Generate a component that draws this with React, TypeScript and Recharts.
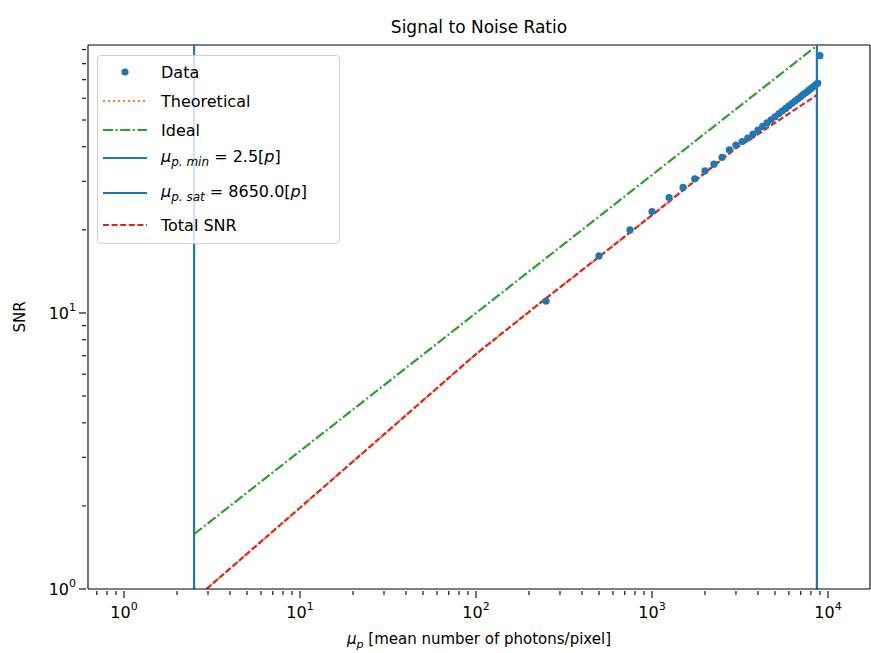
import React from 'react'
import {
  ComposedChart,
  Line,
  Scatter,
  XAxis,
  YAxis,
  ReferenceLine,
} from 'recharts'

// measured points (mean photons, SNR)
const dataMu = [250, 500, 750, 1000, 1250, 1500, 1750, 2000, 2250, 2500, 2750, 3000, 3250, 3500, 3750, 4000, 4250, 4500, 4750, 5000, 5250, 5500, 5750, 6000, 6250, 6500, 6750, 7000, 7250, 7500, 7750, 8000, 8250, 8500, 8750, 9000]
const dataSnr = [11.05, 16.1, 20.0, 23.3, 26.2, 28.5, 30.6, 32.7, 34.6, 36.6, 39.0, 40.6, 41.8, 43.0, 44.5, 46.0, 47.4, 48.8, 50.1, 51.4, 52.7, 53.9, 55.1, 56.3, 57.5, 58.6, 59.7, 60.8, 61.9, 62.9, 64.0, 65.0, 66.0, 67.0, 68.0, 85.5]

const theoMu = [2.94, 10, 30, 100, 250, 1000, 3000, 3750, 5000, 8650]
const theoSnr = [1.0, 1.97, 3.63, 7.1, 11.3, 22.6, 40.0, 44.0, 51.0, 67.0]

const idealMu = [2.5, 8650]
const idealSnr = [1.58, 93.0]

const totalMu = [2.94, 10, 30, 100, 250, 1000, 3000, 3750, 8650]
const totalSnr = [1.0, 1.97, 3.63, 7.1, 11.3, 22.6, 39.5, 43.2, 61.6]

const muMin = 2.5
const muSat = 8650

const xDomain = [0.624, 17330]
const yDomain = [1, 93.5]

const xTicks = [0.7, 0.8, 0.9, 1, 2, 3, 4, 5, 6, 7, 8, 9, 10, 20, 30, 40, 50, 60, 70, 80, 90, 100, 200, 300, 400, 500, 600, 700, 800, 900, 1000, 2000, 3000, 4000, 5000, 6000, 7000, 8000, 9000, 10000]
const yTicks = [1, 2, 3, 4, 5, 6, 7, 8, 9, 10, 20, 30, 40, 50, 60, 70, 80, 90]

const zip = (xs: number[], ys: number[]) => xs.map((x, i) => ({ x, y: ys[i] }))

const font = 'DejaVu Sans, sans-serif'
const isMajor = (v: number) => Math.abs(Math.log10(v) - Math.round(Math.log10(v))) < 1e-6

const XTick = (props: any) => {
  const { x, y, payload } = props
  const v = payload.value
  const major = isMajor(v)
  return (
    <g>
      <line x1={x} x2={x} y1={y} y2={y + (major ? 7 : 4)} stroke="#000" strokeWidth={1.1} />
      {major && (
        <text x={x} y={y + 27} textAnchor="middle" fontSize={16} fontFamily={font} fill="#000">
          <tspan>10</tspan>
          <tspan dy={-8} fontSize={11}>{Math.round(Math.log10(v))}</tspan>
        </text>
      )}
    </g>
  )
}

const YTick = (props: any) => {
  const { x, y, payload } = props
  const v = payload.value
  const major = isMajor(v)
  return (
    <g>
      <line x1={x} x2={x - (major ? 7 : 4)} y1={y} y2={y} stroke="#000" strokeWidth={1.1} />
      {major && (
        <text x={x - 10} y={y + 6} textAnchor="end" fontSize={16} fontFamily={font} fill="#000">
          <tspan>10</tspan>
          <tspan dy={-8} fontSize={11}>{Math.round(Math.log10(v))}</tspan>
        </text>
      )}
    </g>
  )
}

const Dot = (props: any) => <circle cx={props.cx} cy={props.cy} r={3.6} fill="#1f77b4" />

const legendRows = [
  { kind: 'dot', label: <span>Data</span> },
  { kind: 'line', color: '#ff7f0e', dash: '2 3', label: <span>Theoretical</span> },
  { kind: 'line', color: '#2ca02c', dash: '10 2.6 2 2.6', label: <span>Ideal</span> },
  { kind: 'line', color: '#1f77b4', dash: '', label: <span><i>μ</i><sub style={{ fontSize: 12 }}><i>p. min</i></sub> = 2.5[<i>p</i>]</span> },
  { kind: 'line', color: '#1f77b4', dash: '', label: <span><i>μ</i><sub style={{ fontSize: 12 }}><i>p. sat</i></sub> = 8650.0[<i>p</i>]</span> },
  { kind: 'line', color: '#d62728', dash: '6 2.6', label: <span>Total SNR</span> },
]
const rowY = [72, 101, 130, 158, 193, 225]

export default function App() {
  return (
    <div style={{ position: 'absolute', left: 0, top: 0, width: 871, height: 653, background: '#fff', fontFamily: font }}>
      <div style={{ position: 'absolute', left: 0, width: 958, top: 17, textAlign: 'center', fontSize: 17 }}>
        Signal to Noise Ratio
      </div>
      <ComposedChart width={871} height={653} margin={{ top: 45, right: 1, left: 0, bottom: 0 }}>
        <XAxis
          type="number"
          dataKey="x"
          scale="log"
          domain={xDomain}
          allowDataOverflow
          ticks={xTicks}
          interval={0}
          tick={<XTick />}
          tickLine={false}
          tickSize={0}
          height={64}
          axisLine={{ stroke: '#000', strokeWidth: 1.1 }}
          label={() => (
            <text x={479} y={644} textAnchor="middle" fontSize={15} fontFamily={font} fill="#000">
              <tspan fontStyle="italic">μ</tspan>
              <tspan fontStyle="italic" fontSize={11} dy={4}>p</tspan>
              <tspan dy={-4}> [mean number of photons/pixel]</tspan>
            </text>
          )}
        />
        <YAxis
          type="number"
          dataKey="y"
          scale="log"
          domain={yDomain}
          allowDataOverflow
          ticks={yTicks}
          interval={0}
          tick={<YTick />}
          tickLine={false}
          tickSize={0}
          width={88}
          axisLine={{ stroke: '#000', strokeWidth: 1.1 }}
          label={() => (
            <text x={25} y={317} textAnchor="middle" fontSize={15} fontFamily={font} fill="#000" transform="rotate(-90 25 317)">
              SNR
            </text>
          )}
        />
        <ReferenceLine y={yDomain[1]} stroke="#000" strokeWidth={1.1} ifOverflow="visible" />
        <ReferenceLine x={xDomain[1]} stroke="#000" strokeWidth={1.1} ifOverflow="visible" />
        <Scatter data={zip(dataMu, dataSnr)} shape={<Dot />} isAnimationActive={false} />
        <Line data={zip(theoMu, theoSnr)} dataKey="y" stroke="#ff7f0e" strokeWidth={2.2} strokeDasharray="2 3" dot={false} isAnimationActive={false} />
        <Line data={zip(idealMu, idealSnr)} dataKey="y" stroke="#2ca02c" strokeWidth={2.2} strokeDasharray="10 2.6 2 2.6" dot={false} isAnimationActive={false} />
        <ReferenceLine x={muMin} stroke="#1f77b4" strokeWidth={2.2} />
        <ReferenceLine x={muSat} stroke="#1f77b4" strokeWidth={2.2} />
        <Line data={zip(totalMu, totalSnr)} dataKey="y" stroke="#d62728" strokeWidth={2.2} strokeDasharray="6 2.6" dot={false} isAnimationActive={false} />
      </ComposedChart>
      <div style={{ position: 'absolute', left: 97, top: 55, width: 243, height: 189, border: '1px solid #d0d0d0', borderRadius: 4, background: 'rgba(255,255,255,0.8)', boxSizing: 'border-box' }} />
      {legendRows.map((r, i) => (
        <div key={i} style={{ position: 'absolute', left: 103, top: rowY[i] - 11, height: 22, display: 'flex', alignItems: 'center', fontSize: 16, whiteSpace: 'nowrap' }}>
          <svg width={44} height={10} style={{ marginRight: 14 }}>
            {r.kind === 'dot' ? (
              <circle cx={22} cy={5} r={3.6} fill="#1f77b4" />
            ) : (
              <line x1={0} x2={44} y1={5} y2={5} stroke={r.color} strokeWidth={2.2} strokeDasharray={r.dash} />
            )}
          </svg>
          {r.label}
        </div>
      ))}
    </div>
  )
}
